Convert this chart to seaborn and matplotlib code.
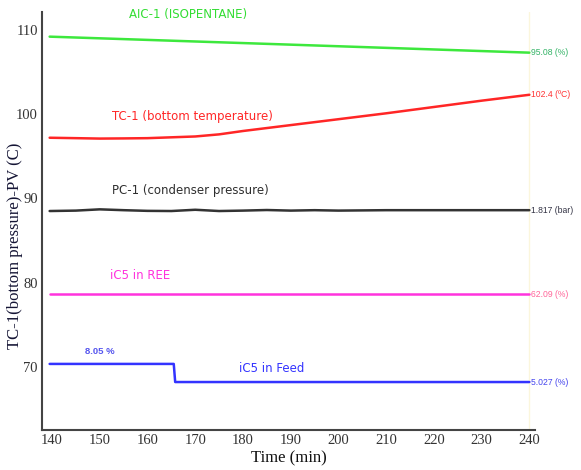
import matplotlib
matplotlib.use("Agg")
import matplotlib.pyplot as plt
import seaborn as sns
import pandas as pd

# ---- data ----
aic_t = [139.5, 190, 240]
aic_v = [109.2, 108.25, 107.3]

tc_t = [139.5, 145, 150, 155, 160, 165, 170, 175, 180, 190, 200, 210, 220, 230, 240]
tc_v = [97.2, 97.15, 97.1, 97.12, 97.15, 97.25, 97.35, 97.6, 98.0, 98.7, 99.4, 100.1, 100.85, 101.6, 102.3]

pc_t = [139.5, 145, 150, 155, 160, 165, 170, 175, 180, 185, 190, 195, 200, 210, 220, 230, 240]
pc_v = [88.5, 88.55, 88.7, 88.6, 88.52, 88.5, 88.65, 88.5, 88.55, 88.62, 88.55, 88.6, 88.55, 88.6, 88.6, 88.6, 88.6]

ree_t = [139.5, 240]
ree_v = [78.6, 78.6]

feed_t = [139.5, 165.5, 165.8, 240]
feed_v = [70.35, 70.35, 68.2, 68.2]

end_labels = ["95.08 (%)", "102.4 (ºC)", "1.817 (bar)", "62.09 (%)", "5.027 (%)"]
series_names = ["AIC-1 (ISOPENTANE)", "TC-1 (bottom temperature)", "PC-1 (condenser pressure)",
                "iC5 in REE", "iC5 in Feed"]
x_ticks = [140, 150, 160, 170, 180, 190, 200, 210, 220, 230, 240]
y_ticks = [70, 80, 90, 100, 110]

line_colors = ["#3de83d", "#ff2626", "#333333", "#ff33dd", "#3333ff"]
end_colors = ["#33b366", "#ff3333", "#333344", "#ff6699", "#4444ee"]

sns.set_style("white")
fig = plt.figure(figsize=(5.81, 4.70), dpi=100)
ax = fig.add_axes([0.0723, 0.085, 0.8487, 0.889])

series = [(aic_t, aic_v), (tc_t, tc_v), (pc_t, pc_v), (ree_t, ree_v), (feed_t, feed_v)]
for (t, v), c in zip(series, line_colors):
    df = pd.DataFrame({"t": t, "v": v})
    sns.lineplot(data=df, x="t", y="v", ax=ax, color=c, linewidth=1.8, sort=False, estimator=None)

ax.set_xlim(137.9, 241.2)
ax.set_ylim(62.5, 112.1)
ax.set_xticks(x_ticks)
ax.set_yticks(y_ticks)
ax.axvline(240, color="#fbf6dc", linewidth=1, zorder=0)

serif = "Liberation Serif"
for lab in ax.get_xticklabels() + ax.get_yticklabels():
    lab.set_fontfamily(serif)
    lab.set_fontsize(10.5)
    lab.set_color("#333333")
ax.set_xlabel("Time (min)", fontfamily=serif, fontsize=12, labelpad=2, color="#111111")
ax.set_ylabel("TC-1(bottom pressure)-PV (C)", fontfamily=serif, fontsize=12, color="#151535")
ax.yaxis.set_label_coords(-0.039, 0.44)
ax.tick_params(axis="both", length=0, pad=3)

for s in ["top", "right"]:
    ax.spines[s].set_visible(False)
for s in ["left", "bottom"]:
    ax.spines[s].set_color("#444444")
    ax.spines[s].set_linewidth(1.5)

# series name labels
name_pos = [(168.5, 111.8), (169.5, 99.7), (169, 90.9), (158.5, 80.9), (186, 69.8)]
name_cols = ["#33dd33", "#ff2626", "#2e2e2e", "#ff33dd", "#3333ff"]
for name, (x, y), c in zip(series_names, name_pos, name_cols):
    ax.text(x, y, name, color=c, fontsize=8.5, ha="center", va="center", fontfamily="DejaVu Sans")
ax.text(150, 71.8, "8.05 %", color="#5555ee", fontsize=6.8, fontweight="bold", ha="center", va="center",
        fontfamily="Liberation Sans")

# end value labels
end_vals = [aic_v[-1], tc_v[-1], pc_v[-1], ree_v[-1], feed_v[-1]]
for lab, v, c in zip(end_labels, end_vals, end_colors):
    ax.text(240.4, v, lab, color=c, fontsize=6.2, ha="left", va="center",
            fontfamily="Liberation Sans", clip_on=False)

fig.savefig("out.png", dpi=100)
